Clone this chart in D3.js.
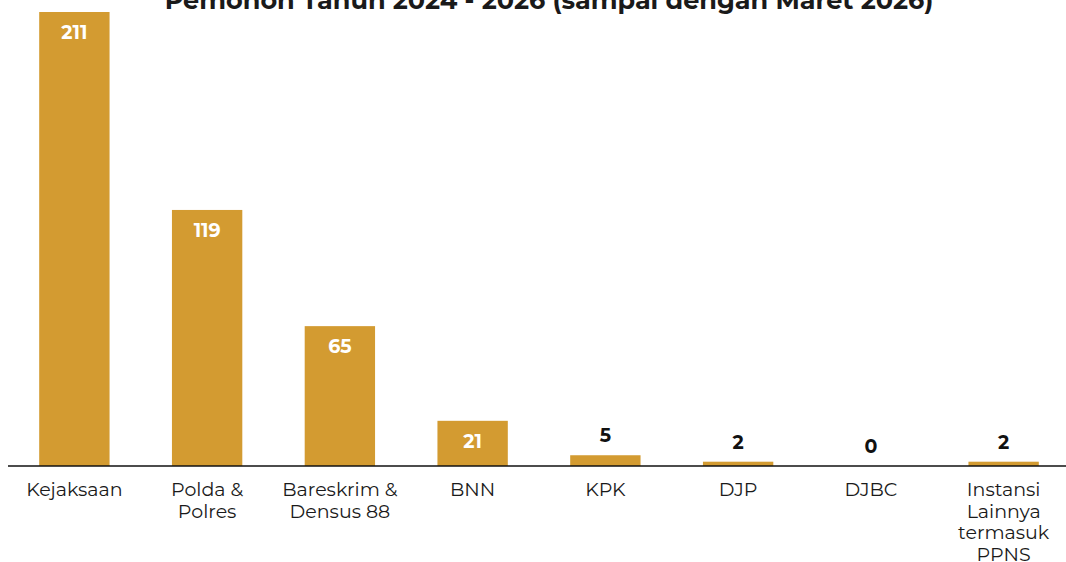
<html>
<script src="https://d3js.org/d3.v7.min.js"></script>
<style>
  body { margin: 0; background: #fff; }
  text { font-family: "Montserrat", "Lato", "Open Sans", sans-serif; }
</style>
<body>
<svg width="1066" height="562"></svg>
<script>
// Data
const categories = ["Kejaksaan", "Polda & Polres", "Bareskrim & Densus 88", "BNN", "KPK", "DJP", "DJBC", "Instansi Lainnya termasuk PPNS"];
const labelLines = [["Kejaksaan"], ["Polda &", "Polres"], ["Bareskrim &", "Densus 88"], ["BNN"], ["KPK"], ["DJP"], ["DJBC"], ["Instansi", "Lainnya", "termasuk", "PPNS"]];
const values = [211, 119, 65, 21, 5, 2, 0, 2];
const title = "Pemohon Tahun 2024 - 2026 (sampai dengan Maret 2026)";

const svg = d3.select("svg");
const baseY = 466;

const x = d3.scaleBand().domain(categories).range([8, 1070]).paddingInner(0.47).paddingOuter(0.235);
const y = d3.scaleLinear().domain([0, 211]).range([baseY, 12]);

// title (cut off at the top, as in the source)
svg.append("text")
  .attr("x", 549).attr("y", 9)
  .attr("text-anchor", "middle")
  .style("font-size", "25.5px").style("font-weight", "bold").style("fill", "#1a1a1a")
  .text(title);

// bars
svg.append("g").selectAll("rect")
  .data(values)
  .enter().append("rect")
    .attr("x", (d, i) => x(categories[i]))
    .attr("width", x.bandwidth())
    .attr("y", d => y(d))
    .attr("height", d => baseY - y(d))
    .style("fill", "#D39B31");

// baseline
svg.append("line")
  .attr("x1", 8).attr("x2", 1066)
  .attr("y1", baseY).attr("y2", baseY)
  .style("stroke", "#111").style("stroke-width", 1.5);

// value labels
svg.append("g").selectAll("text")
  .data(values)
  .enter().append("text")
    .attr("x", (d, i) => x(categories[i]) + x.bandwidth() / 2)
    .attr("y", d => d >= 20 ? y(d) + 27 : y(d) - 13)
    .attr("text-anchor", "middle")
    .style("font-size", "19px").style("font-weight", "bold")
    .style("fill", d => d >= 20 ? "#fff" : "#111")
    .text(d => d);

// category labels
const cat = svg.append("g").selectAll("text")
  .data(categories)
  .enter().append("text")
    .attr("x", d => x(d) + x.bandwidth() / 2)
    .attr("y", baseY + 30)
    .attr("text-anchor", "middle")
    .style("font-size", "19px").style("fill", "#1a1a1a");

cat.each(function (d, i) {
  d3.select(this).selectAll("tspan")
    .data(labelLines[i])
    .enter().append("tspan")
      .attr("x", x(d) + x.bandwidth() / 2)
      .attr("dy", (t, j) => j === 0 ? 0 : 21.5)
      .text(t => t);
});
</script>
</body>
</html>
